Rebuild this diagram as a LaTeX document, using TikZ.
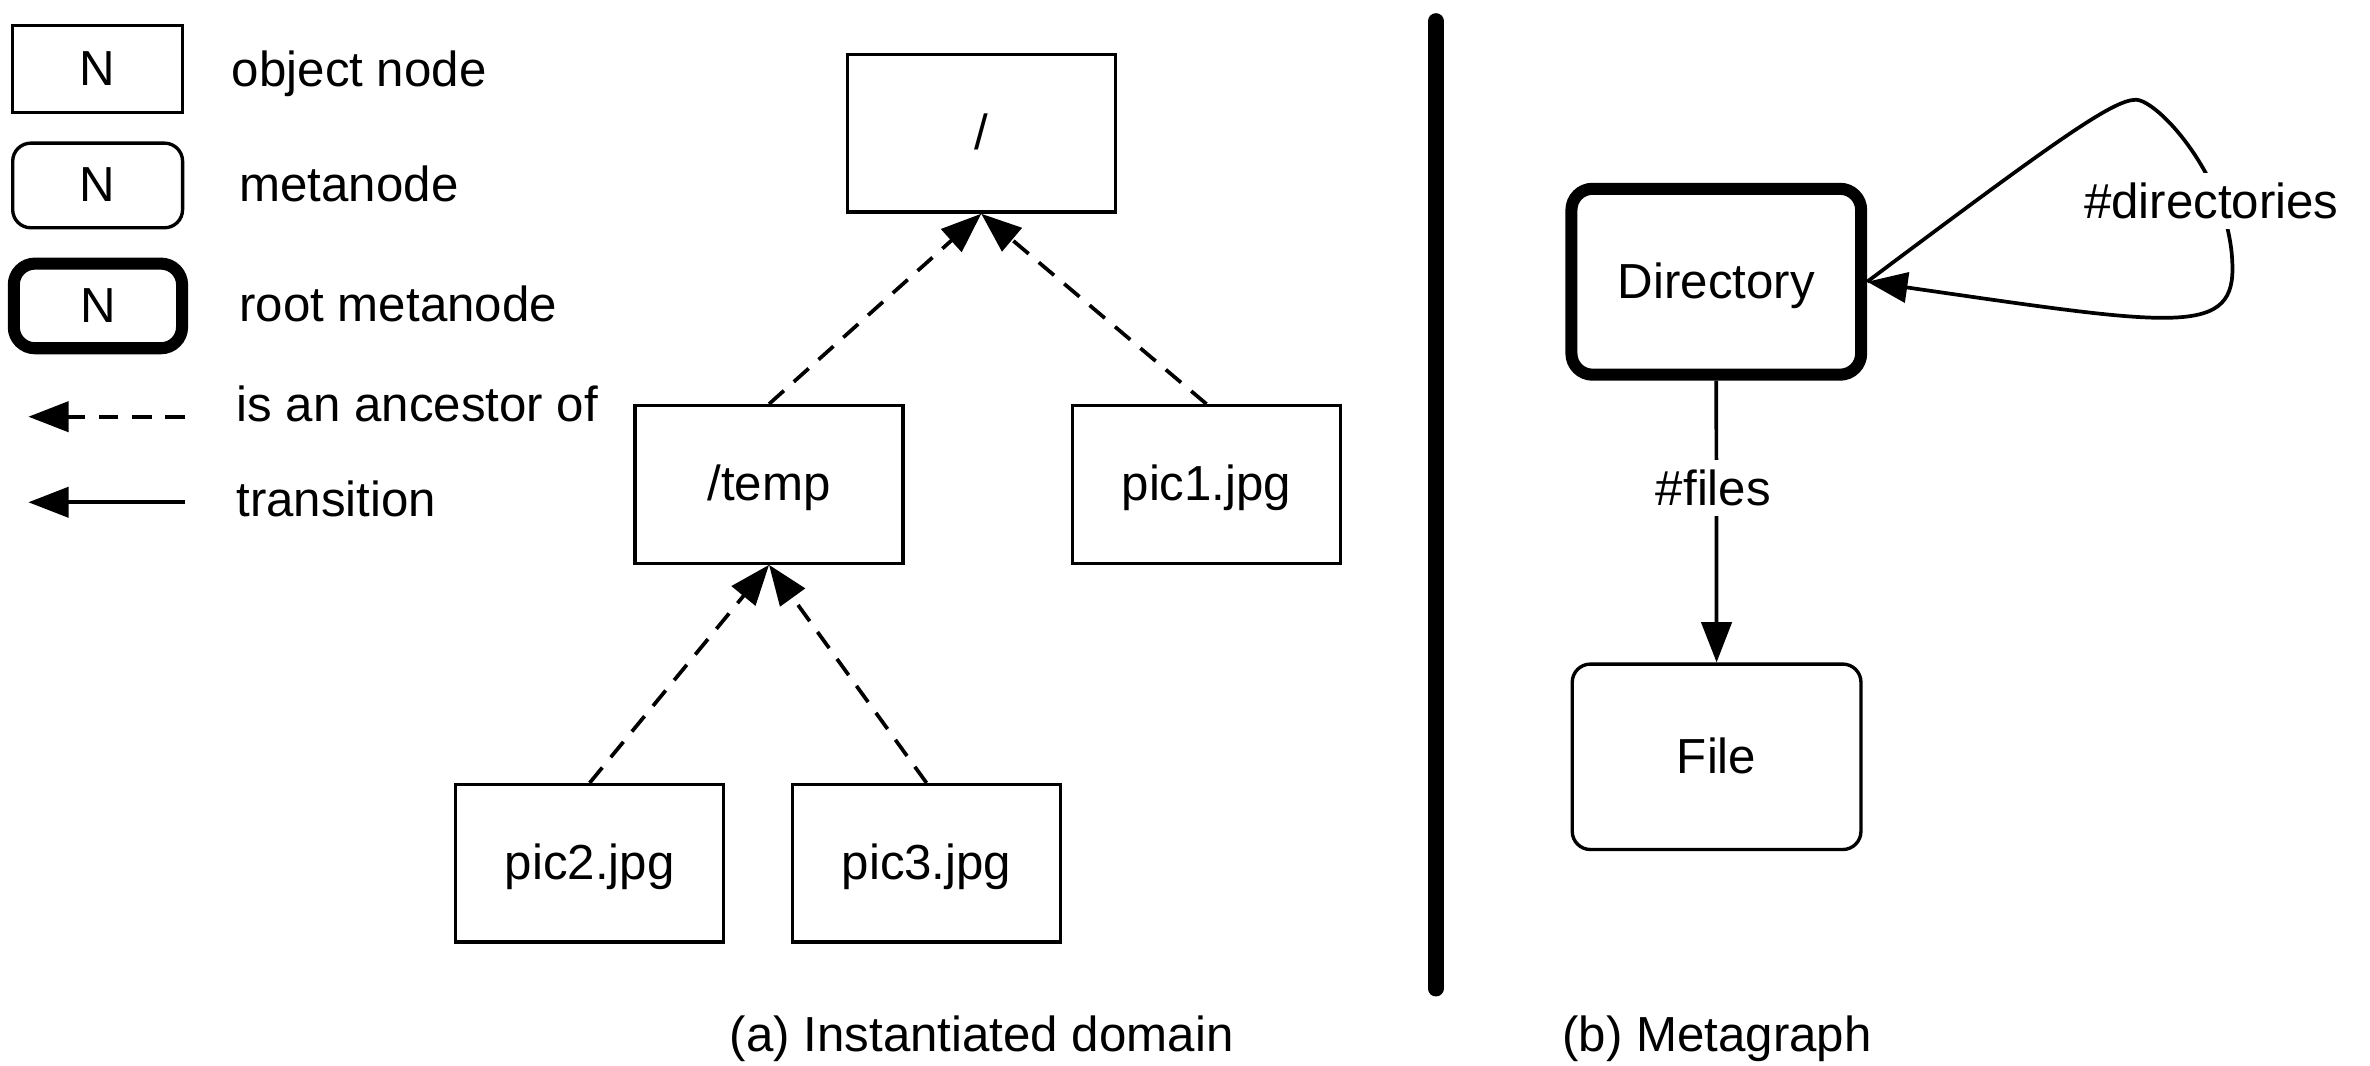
\documentclass[tikz,border=0pt]{standalone}
\usepackage{fontspec}
\setmainfont{Liberation Sans}
\usetikzlibrary{arrows.meta}

\begin{document}
\begin{tikzpicture}[x=0.015cm, y=-0.015cm,
  every node/.style={font=\fontsize{13.9}{16.7}\selectfont, inner sep=0pt},
  objbox/.style={draw, line width=0.95pt, minimum width=2.66cm, minimum height=1.563cm, text height=9.2pt, text depth=0pt},
  metabox/.style={draw, line width=0.95pt, rounded corners=0.18cm, minimum width=2.865cm, minimum height=1.84cm, text height=9.2pt, text depth=0pt},
  rootbox/.style={draw, line width=3.4pt, rounded corners=0.21cm, minimum width=2.875cm, minimum height=1.845cm, text height=9.2pt, text depth=0pt},
  conn/.style={line width=1.05pt, -{Triangle[length=0.4cm, width=0.3cm]}},
  anc/.style={conn, dash pattern=on 0.198cm off 0.132cm},
  lbl/.style={fill=white, inner sep=0.1cm, anchor=base},
  legtext/.style={anchor=base west},
]
\useasboundingbox (0,0) rectangle (1568,705);

% legend
\node[objbox, minimum width=1.686cm, minimum height=0.8625cm] (lgobj) at (64.6,45.75) {N};
\node[metabox, minimum width=1.686cm, minimum height=0.84cm] (lgmeta) at (64.6,122.7) {N};
\node[rootbox, minimum width=1.67cm, minimum height=0.84cm] (lgroot) at (64.8,202.4) {N};
\node[legtext] (tobj) at (153,57) {object node};
\node[legtext] (tmeta) at (158,133.2) {metanode};
\node[legtext] (troot) at (158,212.8) {root metanode};
\node[legtext] (tanc) at (156.2,279) {is an ancestor of};
\node[legtext] (ttrans) at (156,341.6) {transition};
\coordinate (a1s) at (122.4,275.7);
\coordinate (a1e) at (18.8,275.7);
\coordinate (a2s) at (122.4,332.3);
\coordinate (a2e) at (18.8,332.3);
\draw[anc] (a1s) -- (a1e);
\draw[conn] (a2s) -- (a2e);

% instantiated domain
\node[objbox] (root) at (649.2,88.2) {/};
\node[objbox] (temp) at (508.8,320.5) {/temp};
\node[objbox] (pic1) at (798.2,320.5) {pic1.jpg};
\node[objbox] (pic2) at (390.1,571.2) {pic2.jpg};
\node[objbox] (pic3) at (613,571.2) {pic3.jpg};
\draw[anc] (temp.north) -- (root.south);
\draw[anc] (pic1.north) -- (root.south);
\draw[anc] (pic2.north) -- (temp.south);
\draw[anc] (pic3.north) -- (temp.south);

% separator
\coordinate (vt) at (950,14);
\coordinate (vb) at (950,654);
\draw[line width=4.5pt, line cap=round] (vt) -- (vb);

% metagraph
\node[rootbox] (dir) at (1135.5,186.4) {Directory};
\node[metabox] (file) at (1135.7,500.7) {File};
\draw[conn] (dir.south) -- (file.north);
\node[lbl] (lfiles) at (1133.6,334.6) {\#files};
\coordinate (lpt) at (1413,66);
\coordinate (lpq) at (1477,178);
\draw[conn] (dir.east) .. controls (1360,93) and (1398,66) .. (lpt)
  .. controls (1428,66) and (1477,120) .. (lpq)
  .. controls (1477,223) and (1434,215) .. (dir.east);
\node[lbl] (ldirs) at (1463,144.5) {\#directories};

% captions
\node[anchor=base] (capa) at (649.5,696) {(a) Instantiated domain};
\node[anchor=base] (capb) at (1136,696) {(b) Metagraph};
\end{tikzpicture}
\end{document}
